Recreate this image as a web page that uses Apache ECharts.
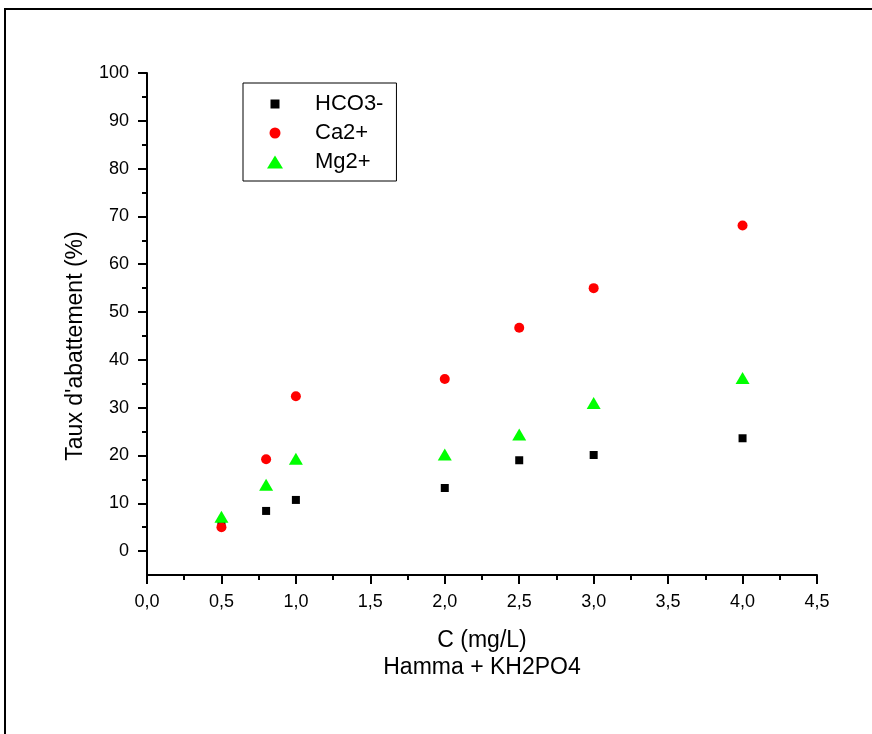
<!DOCTYPE html>
<html>
<head>
<meta charset="utf-8">
<script src="https://cdn.jsdelivr.net/npm/echarts@6/dist/echarts.min.js"></script>
<style>
html,body{margin:0;padding:0;background:#fff;}
#chart{width:872px;height:734px;}
</style>
</head>
<body>
<div id="chart"></div>
<script>
// ---- data ----
const concentrations = [0.5, 0.8, 1.0, 2.0, 2.5, 3.0, 4.0];
const hco3Values = [5.7, 8.4, 10.7, 13.2, 19.0, 20.1, 23.6];
const caValues = [5.0, 19.2, 32.4, 36.0, 46.7, 55.0, 68.1];
const mgValues = [7.2, 13.9, 19.3, 20.2, 24.4, 31.0, 36.2];
const seriesNames = ['HCO3-', 'Ca2+', 'Mg2+'];
const yMajorTicks = [0, 10, 20, 30, 40, 50, 60, 70, 80, 90, 100];
const yMinorTicks = [5, 15, 25, 35, 45, 55, 65, 75, 85, 95];
const xTitle = 'C (mg/L)';
const xSubTitle = 'Hamma + KH2PO4';
const yTitle = "Taux d'abattement (%)";

const FONT = "'Liberation Sans', Arial, sans-serif";
const pairs = vals => concentrations.map((c, i) => [c, vals[i]]);

const chart = echarts.init(document.getElementById('chart'), null, {renderer: 'canvas'});
chart.setOption({
  backgroundColor: '#fff',
  animation: false,
  textStyle: {fontFamily: FONT, color: '#000'},
  grid: {left: 147, right: 55, top: 73, bottom: 159, containLabel: false},
  xAxis: {
    type: 'value', min: 0, max: 4.5, interval: 0.5,
    name: xTitle + '\n' + xSubTitle,
    nameLocation: 'middle', nameGap: 52,
    nameTextStyle: {fontFamily: FONT, fontSize: 23, lineHeight: 27, color: '#000'},
    axisLine: {show: true, onZero: false, lineStyle: {color: '#000', width: 2}},
    axisTick: {show: true, inside: false, length: 9, lineStyle: {color: '#000', width: 2}},
    minorTick: {show: true, splitNumber: 2, length: 5, lineStyle: {color: '#000', width: 2}},
    axisLabel: {fontFamily: FONT, fontSize: 18, color: '#000', margin: 18,
      formatter: v => v.toFixed(1).replace('.', ',')},
    splitLine: {show: false}
  },
  yAxis: [{
    type: 'value', min: -5, max: 100, position: 'left',
    axisLine: {show: true, onZero: false, lineStyle: {color: '#000', width: 2}},
    axisTick: {show: true, inside: false, length: 9, customValues: yMajorTicks, lineStyle: {color: '#000', width: 2}},
    axisLabel: {fontFamily: FONT, fontSize: 18, color: '#000', margin: 18, customValues: yMajorTicks},
    splitLine: {show: false}
  }, {
    type: 'value', min: -5, max: 100, position: 'left', offset: 0,
    axisLine: {show: false},
    axisTick: {show: true, inside: false, length: 5, customValues: yMinorTicks, lineStyle: {color: '#000', width: 2}},
    axisLabel: {show: false},
    splitLine: {show: false}
  }],
  legend: {
    orient: 'vertical', left: 243, top: 83,
    padding: [10, 13, 8, 24],
    borderColor: '#000', borderWidth: 1, borderRadius: 0,
    itemWidth: 16, itemHeight: 13, itemGap: 7,
    textStyle: {fontFamily: FONT, fontSize: 22, lineHeight: 22, color: '#000', padding: [0, 0, 0, 27]},
    data: [
      {name: seriesNames[0], icon: 'path://M0,0M16,13M3.5,2h9v9h-9z'},
      {name: seriesNames[1], icon: 'path://M0,0M16,13M2.5,6.5a5.5,5.5 0 1,0 11,0a5.5,5.5 0 1,0 -11,0z'},
      {name: seriesNames[2], icon: 'path://M0,13L8,0L16,13z'}
    ]
  },
  graphic: [
    {type: 'rect', silent: true, z: -1,
      shape: {x: 5, y: 9, width: 900, height: 800},
      style: {fill: 'none', stroke: '#000', lineWidth: 2}},
    {type: 'text', silent: true, x: 76, y: 346, rotation: Math.PI / 2,
      style: {text: yTitle, fontFamily: FONT, fontSize: 23, fill: '#000', align: 'center', verticalAlign: 'middle'}}
  ],
  series: [
    {name: seriesNames[0], type: 'scatter', data: pairs(hco3Values), symbol: 'rect', symbolSize: 8,
      itemStyle: {color: '#000', opacity: 1}},
    {name: seriesNames[1], type: 'scatter', data: pairs(caValues), symbol: 'circle', symbolSize: 10,
      itemStyle: {color: '#ff0000', opacity: 1}},
    {name: seriesNames[2], type: 'scatter', data: pairs(mgValues), symbol: 'triangle', symbolSize: [14, 12],
      itemStyle: {color: '#00ff00', opacity: 1}}
  ]
});
</script>
</body>
</html>
